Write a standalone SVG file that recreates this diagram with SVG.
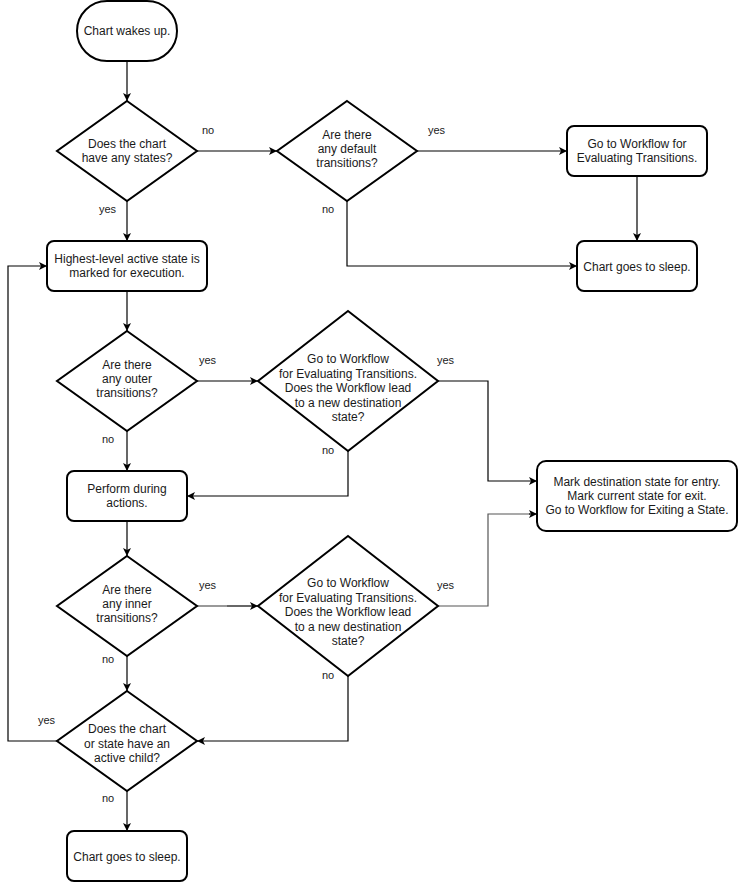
<svg xmlns="http://www.w3.org/2000/svg" width="739" height="882" viewBox="0 0 739 882">
<style>
.n{fill:#fff;stroke:#000;stroke-width:2}
.t{font-family:"Liberation Sans",Arial,sans-serif;font-size:12px;fill:#1a1a1a;text-anchor:middle}
.l{font-family:"Liberation Sans",Arial,sans-serif;font-size:11px;fill:#1a1a1a}
.e{fill:none;stroke:#000;stroke-width:1.2}
.g{stroke:#555}
</style>
<defs>
<marker id="a" markerWidth="10" markerHeight="10" refX="8" refY="4" orient="auto" markerUnits="userSpaceOnUse">
<path d="M0,0 L8,4 L0,8 L2,4 z" fill="#000"/>
</marker>
</defs>
<rect width="739" height="882" fill="#fff"/>
<g id="connectors">
<path class="e" d="M127,61 V101" marker-end="url(#a)"/>
<path class="e" d="M127,201 V241" marker-end="url(#a)"/>
<path class="e" d="M197,151 H277" marker-end="url(#a)"/>
<path class="e" d="M417,151 H567" marker-end="url(#a)"/>
<path class="e" d="M637,176 V241" marker-end="url(#a)"/>
<path class="e" d="M347,201 V266 H577" marker-end="url(#a)"/>
<path class="e" d="M127,291 V331" marker-end="url(#a)"/>
<path class="e" d="M197,381 H258" marker-end="url(#a)"/>
<path class="e" d="M438,381 H488 V481 H537" marker-end="url(#a)"/>
<path class="e" d="M348,451 V496 H187" marker-end="url(#a)"/>
<path class="e" d="M127,431 V471" marker-end="url(#a)"/>
<path class="e" d="M127,521 V556" marker-end="url(#a)"/>
<path class="e g" d="M197,606 H227"/>
<path class="e" d="M227,606 H258" marker-end="url(#a)"/>
<path class="e g" d="M438,606 H488 V514 H530"/>
<path class="e" d="M529,514 H537" marker-end="url(#a)"/>
<path class="e" d="M348,676 V741 H197" marker-end="url(#a)"/>
<path class="e" d="M127,656 V691" marker-end="url(#a)"/>
<path class="e" d="M57,741 H8 V266 H47" marker-end="url(#a)"/>
<path class="e" d="M127,791 V831" marker-end="url(#a)"/>
<text class="l" x="202" y="134">no</text>
<text class="l" x="99" y="213">yes</text>
<text class="l" x="428" y="134">yes</text>
<text class="l" x="322" y="213">no</text>
<text class="l" x="199" y="364">yes</text>
<text class="l" x="437" y="364">yes</text>
<text class="l" x="102" y="443">no</text>
<text class="l" x="322" y="454">no</text>
<text class="l" x="199" y="589">yes</text>
<text class="l" x="437" y="589">yes</text>
<text class="l" x="102" y="663">no</text>
<text class="l" x="322" y="679">no</text>
<text class="l" x="38" y="724">yes</text>
<text class="l" x="102" y="802">no</text>
</g>
<g id="start">
<rect class="n" x="77" y="1" width="100" height="60" rx="30" ry="30"/>
<text class="t" x="127" y="35">Chart wakes up.</text>
</g>
<g id="d1">
<polygon class="n" points="127,101 197,151 127,201 57,151"/>
<text class="t" x="127" y="148">Does the chart</text>
<text class="t" x="127" y="162">have any states?</text>
</g>
<g id="d2">
<polygon class="n" points="347,101 417,151 347,201 277,151"/>
<text class="t" x="347" y="139">Are there</text>
<text class="t" x="347" y="153">any default</text>
<text class="t" x="347" y="167">transitions?</text>
</g>
<g id="goto1">
<rect class="n" x="567" y="126" width="140" height="50" rx="7"/>
<text class="t" x="637" y="148">Go to Workflow for</text>
<text class="t" x="637" y="162">Evaluating Transitions.</text>
</g>
<g id="sleep1">
<rect class="n" x="577" y="241" width="120" height="50" rx="7"/>
<text class="t" x="637" y="271">Chart goes to sleep.</text>
</g>
<g id="highest">
<rect class="n" x="47" y="241" width="160" height="50" rx="7"/>
<text class="t" x="127" y="263">Highest-level active state is</text>
<text class="t" x="127" y="277">marked for execution.</text>
</g>
<g id="d3">
<polygon class="n" points="127,331 197,381 127,431 57,381"/>
<text class="t" x="127" y="369">Are there</text>
<text class="t" x="127" y="383">any outer</text>
<text class="t" x="127" y="397">transitions?</text>
</g>
<g id="d4">
<polygon class="n" points="348,311 438,381 348,451 258,381"/>
<text class="t" x="348" y="363">Go to Workflow</text>
<text class="t" x="348" y="377.5">for Evaluating Transitions.</text>
<text class="t" x="348" y="392">Does the Workflow lead</text>
<text class="t" x="348" y="406.5">to a new destination</text>
<text class="t" x="348" y="421">state?</text>
</g>
<g id="mark">
<rect class="n" x="537" y="461" width="200" height="70" rx="9"/>
<text class="t" x="637" y="486">Mark destination state for entry.</text>
<text class="t" x="637" y="500">Mark current state for exit.</text>
<text class="t" x="637" y="514">Go to Workflow for Exiting a State.</text>
</g>
<g id="perform">
<rect class="n" x="67" y="471" width="120" height="50" rx="7"/>
<text class="t" x="127" y="493">Perform during</text>
<text class="t" x="127" y="507">actions.</text>
</g>
<g id="d5">
<polygon class="n" points="127,556 197,606 127,656 57,606"/>
<text class="t" x="127" y="594">Are there</text>
<text class="t" x="127" y="608">any inner</text>
<text class="t" x="127" y="622">transitions?</text>
</g>
<g id="d6">
<polygon class="n" points="348,536 438,606 348,676 258,606"/>
<text class="t" x="348" y="587">Go to Workflow</text>
<text class="t" x="348" y="601.5">for Evaluating Transitions.</text>
<text class="t" x="348" y="616">Does the Workflow lead</text>
<text class="t" x="348" y="630.5">to a new destination</text>
<text class="t" x="348" y="645">state?</text>
</g>
<g id="d7">
<polygon class="n" points="127,691 197,741 127,791 57,741"/>
<text class="t" x="127" y="733">Does the chart</text>
<text class="t" x="127" y="747.5">or state have an</text>
<text class="t" x="127" y="762">active child?</text>
</g>
<g id="sleep2">
<rect class="n" x="67" y="831" width="120" height="50" rx="7"/>
<text class="t" x="127" y="861">Chart goes to sleep.</text>
</g>
</svg>
